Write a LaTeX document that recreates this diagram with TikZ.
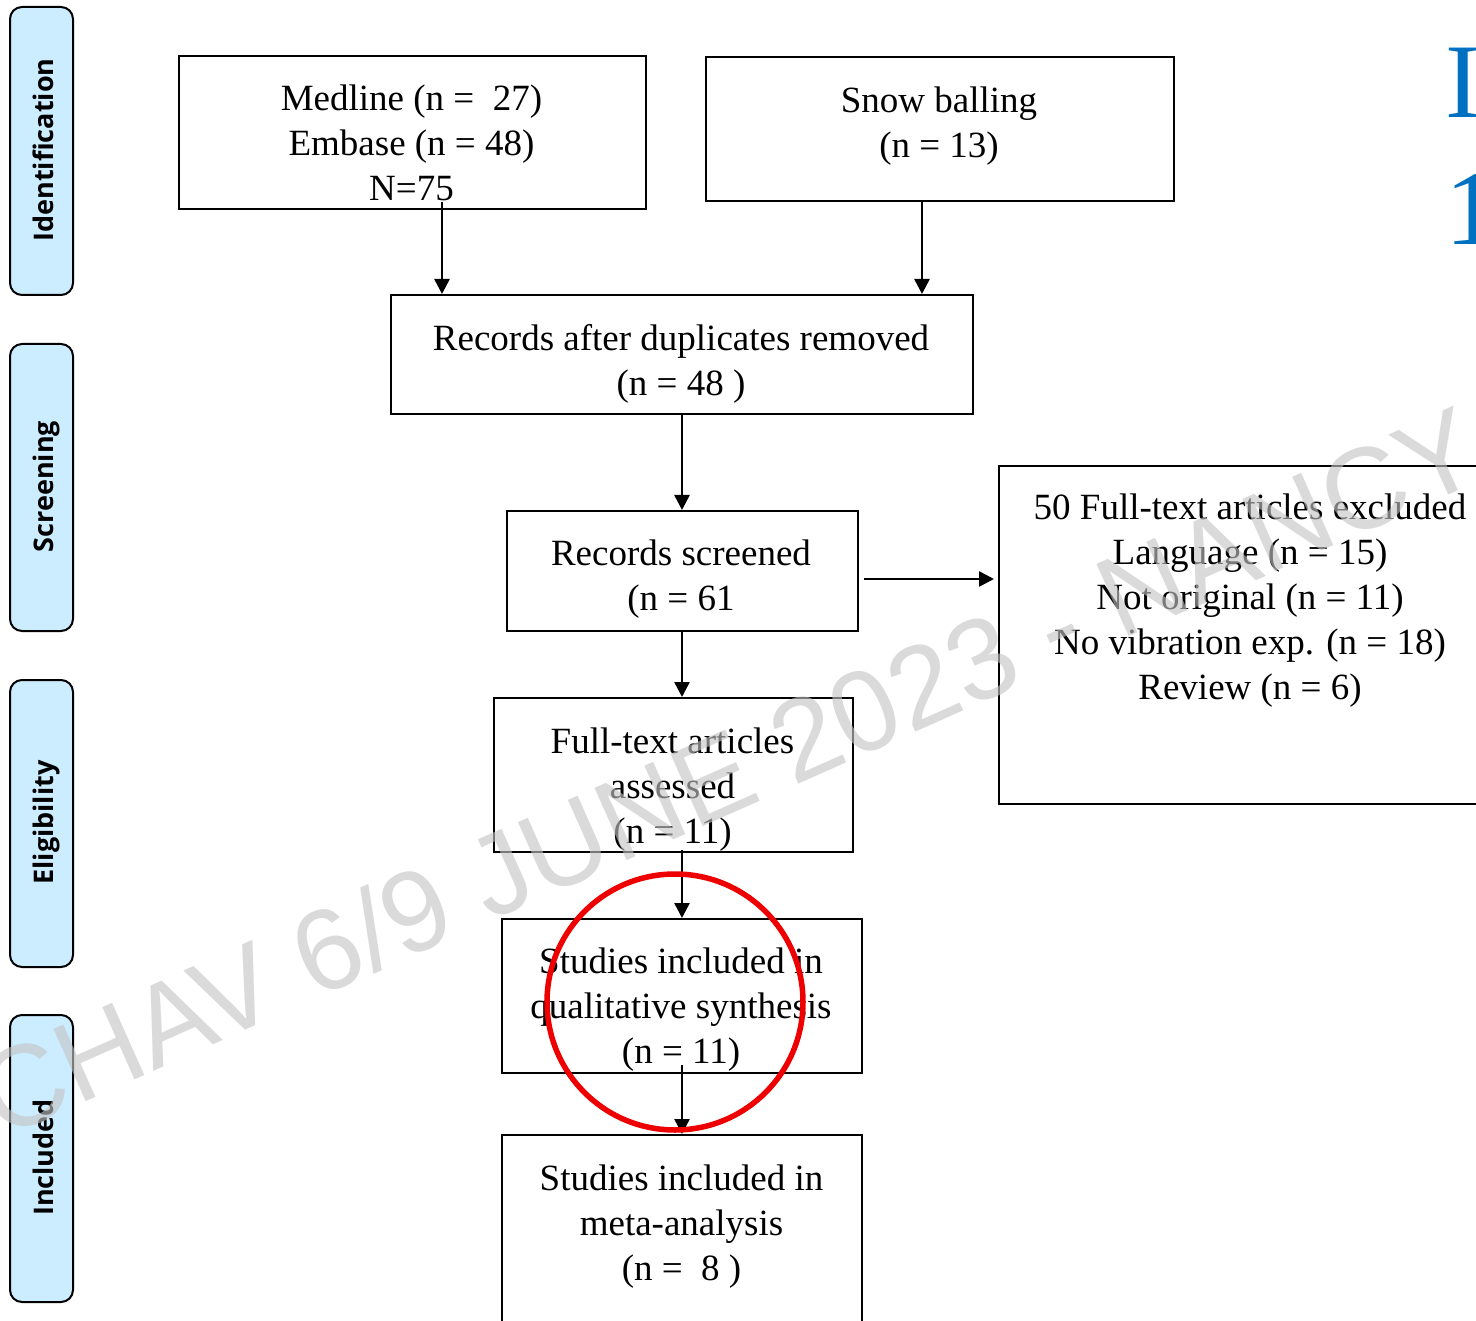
\documentclass[tikz,border=0pt]{standalone}
\usepackage{fontspec}
\setmainfont{Liberation Serif}
\newfontfamily\labelfont{Open Sans}
\newfontfamily\wmfont{Liberation Sans}
\usetikzlibrary{arrows.meta}
\definecolor{lblfill}{HTML}{CCECFF}
\definecolor{wmgray}{gray}{0.77}
\definecolor{ptblue}{HTML}{0070C0}
\definecolor{circred}{HTML}{EE0000}
\tikzset{
  box/.style={draw, line width=2pt, inner sep=0pt, anchor=north west},
  txt/.style={inner sep=0pt, anchor=north, align=center, font=\fontsize{37}{45}\selectfont},
  arr/.style={line width=2.6pt, -{Triangle[length=15pt,width=15pt]}},
  lbl/.style={draw, line width=2pt, fill=lblfill, rounded corners=12pt, anchor=north west, inner sep=0pt, minimum width=63pt},
  lbltxt/.style={rotate=90, anchor=base, inner sep=0pt, font=\labelfont\bfseries\fontsize{27}{32}\selectfont},
}
\begin{document}
\begin{tikzpicture}[x=1pt,y=-1pt]
\useasboundingbox (0,0) rectangle (1476,1321);
\clip (0,0) rectangle (1476,1321);
\fill[white] (0,0) rectangle (1476,1321);

% stage labels
\node[lbl, minimum height=288pt] (l1) at (9,6) {};
\node[lbl, minimum height=287pt] (l2) at (9,343) {};
\node[lbl, minimum height=287pt] (l3) at (9,679) {};
\node[lbl, minimum height=287pt] (l4) at (9,1014) {};
\node[lbltxt] (l1t) at (53,150) {Identification};
\node[lbltxt] (l2t) at (53,486.5) {Screening};
\node[lbltxt] (l3t) at (53,822.5) {Eligibility};
\node[lbltxt] (l4t) at (53,1157.5) {Included};

% boxes
\node[box, minimum width=467pt, minimum height=153pt] (b1) at (178,55) {};
\node[box, minimum width=468pt, minimum height=144pt] (b2) at (705,56) {};
\node[box, minimum width=582pt, minimum height=119pt] (b3) at (390,294) {};
\node[box, minimum width=351pt, minimum height=120pt] (b4) at (506,510) {};
\node[box, minimum width=540pt, minimum height=338pt] (b5) at (998,465) {};
\node[box, minimum width=359pt, minimum height=154pt] (b6) at (493,697) {};
\node[box, minimum width=360pt, minimum height=154pt] (b7) at (501,918) {};
\node[box, minimum width=360pt, minimum height=240pt] (b8) at (501,1134) {};

% texts
\node[txt] (t1) at (411.5,78.5) {\strut Medline (n = \ 27)\\\strut Embase (n = 48)\\\strut N=75};
\node[txt] (t2) at (939,80.5) {\strut Snow balling\\\strut (n = 13)};
\node[txt] (t3) at (681,318.5) {\strut Records after duplicates removed\\\strut (n = 48 )};
\node[txt] (t4) at (681,533.5) {\strut Records screened\\\strut (n = 61};
\node[txt] (t5) at (1250,487.5) {\strut 50 Full-text articles excluded\\\strut Language (n = 15)\\\strut Not original (n = 11)\\\strut No vibration exp. (n = 18)\\\strut Review (n = 6)};
\node[txt] (t6) at (672.5,721.5) {\strut Full-text articles\\\strut assessed\\\strut (n = 11)};
\node[txt] (t7) at (681,941.5) {\strut Studies included in\\\strut qualitative synthesis\\\strut (n = 11)};
\node[txt] (t8) at (681.5,1158.5) {\strut Studies included in\\\strut meta-analysis\\\strut (n = \ 8 )};

% connectors
\coordinate (a1s) at ([xshift=29.5pt,yshift=8pt]b1.south);
\draw[arr] (a1s) -- (a1s |- b3.north);
\coordinate (a2s) at ([xshift=-18pt]b2.south);
\draw[arr] (a2s) -- (a2s |- b3.north);
\draw[arr] (b3.south) -- (b3.south |- b4.north);
\coordinate (a4s) at ([xshift=5pt,yshift=-8pt]b4.east);
\draw[arr, shorten >=4pt] (a4s) -- (b5.west |- a4s);
\coordinate (a5s) at ([xshift=-0.5pt]b4.south);
\draw[arr] (a5s) -- (a5s |- b6.north);
\coordinate (a6s) at ([xshift=8.5pt,yshift=3pt]b6.south);
\draw[arr] (a6s) -- (a6s |- b7.north);
\coordinate (a7s) at ([yshift=9pt]b7.south);
\draw[arr] (a7s) -- (a7s |- b8.north);

% red circle
\node[draw=circred, line width=5.5pt, circle, minimum size=256pt, inner sep=0pt] (circ) at (675,1002) {};

% blue characters at right edge
\node[anchor=base west, inner sep=0pt, text=ptblue, font=\fontsize{106}{110}\selectfont] (bl1) at (1445,118) {I};
\node[anchor=base west, inner sep=0pt, text=ptblue, font=\fontsize{106}{110}\selectfont] (bl2) at (1445,245) {1};

% watermark
\node[rotate=24, anchor=base, inner sep=0pt, text=wmgray, text opacity=0.62, font=\wmfont\fontsize{115}{120}\selectfont] (wm) at (745,808) {CHAV 6/9 JUNE 2023 - NANCY};
\end{tikzpicture}
\end{document}
